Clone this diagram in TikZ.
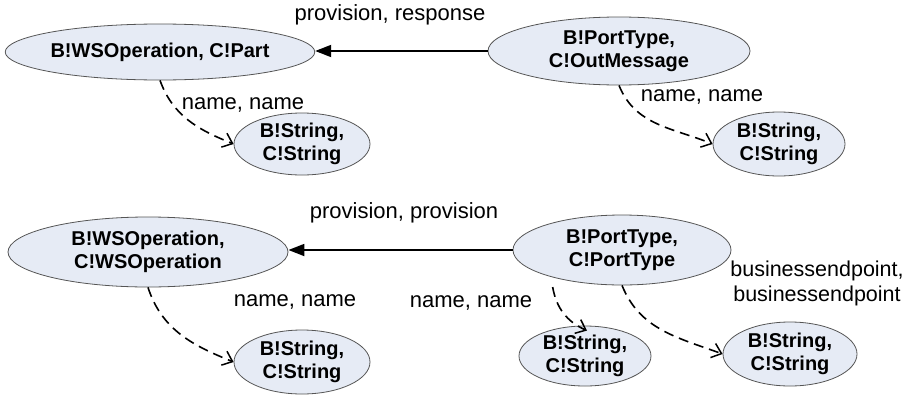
\documentclass[tikz,border=0pt]{standalone}
\usepackage{fontspec}
\setmainfont{Liberation Sans}
\usetikzlibrary{arrows.meta,shapes.geometric}

\definecolor{nodefill}{HTML}{E6EBF5}
\definecolor{nodeline}{HTML}{555555}

\tikzset{
  ent/.style={ellipse, draw=nodeline, line width=0.8pt, fill=nodefill,
    inner sep=0pt, align=center, font=\fontsize{20}{23}\selectfont\bfseries},
  lbl/.style={font=\fontsize{22}{25}\selectfont, inner sep=0pt, align=center},
  link/.style={line width=1.8pt, -{Triangle[length=16pt,width=12pt]}},
  ref/.style={line width=1.6pt, dash pattern=on 10pt off 6pt,
    -{Straight Barb[length=9pt,width=15pt,line width=1.5pt]}},
}

\begin{document}
\begin{tikzpicture}[x=1pt, y=-1pt]
  \useasboundingbox (0,0) rectangle (915,399);

  % upper pair
  \node[ent, minimum width=276pt, minimum height=56pt] (A) at (160,52) {B!WSOperation, C!Part};
  \node[ent, minimum width=262pt, minimum height=68pt] (B) at (619,51) {B!PortType,\\C!OutMessage};
  \node[ent, minimum width=136pt, minimum height=62pt] (S1) at (302,144) {B!String,\\C!String};
  \node[ent, minimum width=132pt, minimum height=64pt] (S2) at (779,144) {B!String,\\C!String};

  % lower group
  \node[ent, minimum width=280pt, minimum height=70pt] (C) at (148,252) {B!WSOperation,\\C!WSOperation};
  \node[ent, minimum width=218pt, minimum height=70pt] (D) at (622,250) {B!PortType,\\C!PortType};
  \node[ent, minimum width=136pt, minimum height=64pt] (S3) at (302,362) {B!String,\\C!String};
  \node[ent, minimum width=132pt, minimum height=60pt] (S4) at (585,356) {B!String,\\C!String};
  \node[ent, minimum width=134pt, minimum height=64pt] (S5) at (790,354) {B!String,\\C!String};

  % edge labels
  \node[lbl] (l1) at (390,15) {provision, response};
  \node[lbl] (l2) at (243,105) {name, name};
  \node[lbl] (l3) at (702,97) {name, name};
  \node[lbl] (l4) at (404,213) {provision, provision};
  \node[lbl] (l5) at (295,302) {name, name};
  \node[lbl] (l6) at (471,303) {name, name};
  \node[lbl, font=\fontsize{21.5}{25}\selectfont] (l7) at (817,283) {businessendpoint,\\businessendpoint};

  % connectors
  \draw[link] (B.west) -- (A.east |- B.west);
  \draw[link] (D.west) -- (C.east |- D.west);

  \draw[ref] (A.south) to[out=-70, in=158] (S1.west);
  \draw[ref] (B.south) to[out=-68, in=158] (S2.west);
  \draw[ref] (C.south) to[out=-72, in=158] (S3.west);
  \path (D.south west) ++(8,12) coordinate (d1);
  \draw[ref] (d1) to[out=-80, in=156] ([xshift=2pt,yshift=-5pt]S4.north);
  \draw[ref] (D.south) to[out=-68, in=160] (S5.west);
\end{tikzpicture}
\end{document}
